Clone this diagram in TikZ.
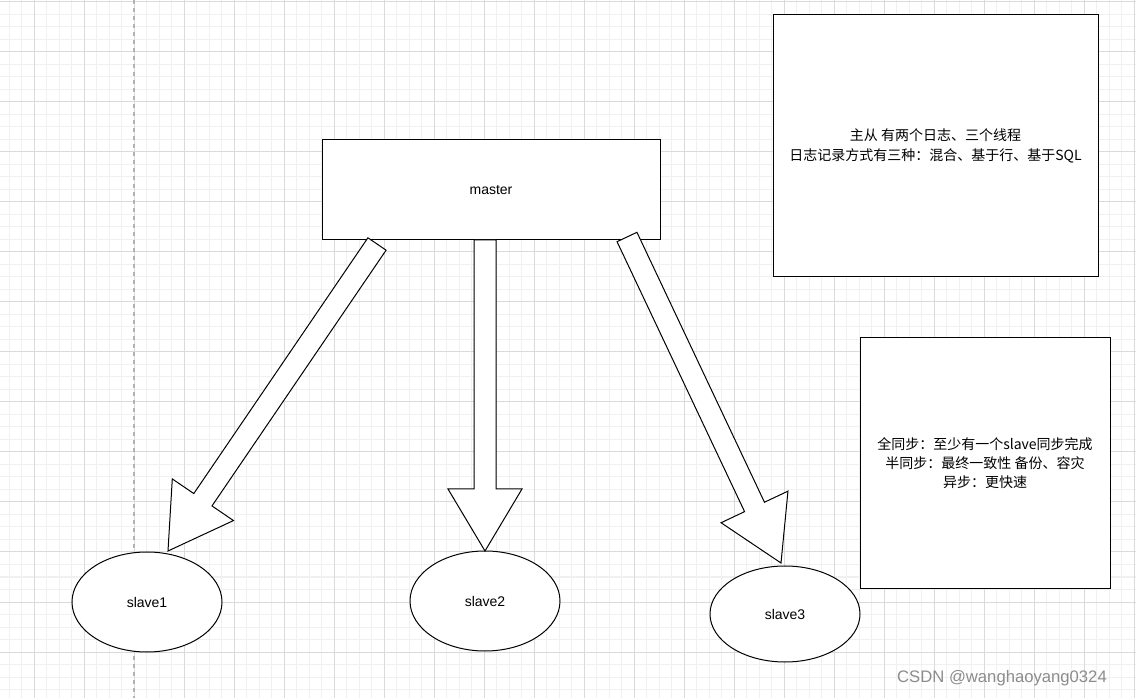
\documentclass[tikz,border=0pt]{standalone}
\usepackage{fontspec}
\setmainfont{Liberation Sans}
\newfontfamily\cjk{Noto Sans CJK SC}
\usetikzlibrary{calc,shapes.geometric}
\definecolor{minorg}{HTML}{F0F0F0}
\definecolor{majorg}{HTML}{DADADA}
\tikzset{
  box/.style={draw=black,fill=white,line width=0.75pt,inner sep=0pt},
  oval/.style={draw=black,fill=white,ellipse,line width=0.75pt,minimum width=150*0.75pt,minimum height=100*0.75pt,font=\fontsize{10.5}{12}\selectfont},
  lbl/.style={font=\cjk\fontsize{10.5}{14.5}\selectfont,align=center},
  blk/.style={draw=black,fill=white,line width=0.75pt,line join=miter}
}
\newcommand\blockarrow[2]{%
  \draw[blk] ($(#1)!11*0.75pt!90:(#2)$) -- ($($(#2)!62*0.75pt!(#1)$)!11*0.75pt!90:(#2)$)
   -- ($($(#2)!62*0.75pt!(#1)$)!37*0.75pt!90:(#2)$) -- (#2)
   -- ($($(#2)!62*0.75pt!(#1)$)!37*0.75pt!-90:(#2)$)
   -- ($($(#2)!62*0.75pt!(#1)$)!11*0.75pt!-90:(#2)$)
   -- ($(#1)!11*0.75pt!-90:(#2)$) -- cycle;}
\begin{document}
\begin{tikzpicture}[x=0.75pt,y=-0.75pt]
\useasboundingbox (0,0) rectangle (1136,698);
\fill[white] (0,0) rectangle (1136,698);
\foreach \i in {0,...,92} {\draw[minorg,line width=0.75pt] ({-3.5+\i*12.5},0) -- ({-3.5+\i*12.5},698);}
\foreach \i in {0,...,56} {\draw[minorg,line width=0.75pt] (0,{2+\i*12.5}) -- (1136,{2+\i*12.5});}
\foreach \i in {0,...,23} {\draw[majorg,line width=0.75pt] ({-16+\i*50},0) -- ({-16+\i*50},698);}
\foreach \i in {0,...,14} {\draw[majorg,line width=0.75pt] (0,{2+\i*50}) -- (1136,{2+\i*50});}
\draw[gray!60,dashed,line width=1pt] (134,0) -- (134,698);
\node[box,minimum width=338*0.75pt,minimum height=100*0.75pt,font=\fontsize{10.5}{12}\selectfont] (master) at (491,190) {master};
\node[box,minimum width=325*0.75pt,minimum height=262*0.75pt,lbl] (note1) at (935.5,146) {主从 有两个日志、三个线程\\日志记录方式有三种：混合、基于行、基于SQL};
\node[box,minimum width=250*0.75pt,minimum height=250*0.75pt,lbl] (note2) at (985,463) {全同步：至少有一个slave同步完成\\半同步：最终一致性 备份、容灾\\异步：更快速};
\node[oval] (s1) at (147,602) {slave1};
\node[oval] (s2) at (485,601) {slave2};
\node[oval,minimum height=96*0.75pt] (s3) at (785,614) {slave3};
\coordinate (a1s) at (377,244); \coordinate (a1e) at (168,551);
\coordinate (a2s) at (485,240); \coordinate (a2e) at (485,551);
\coordinate (a3s) at (627,237); \coordinate (a3e) at (781,563);
\blockarrow{a1s}{a1e}
\blockarrow{a2s}{a2e}
\blockarrow{a3s}{a3e}
\node[font=\fontsize{12.5}{14}\selectfont,text=gray!90] (wm) at (1002,678) {CSDN @wanghaoyang0324};
\end{tikzpicture}
\end{document}
